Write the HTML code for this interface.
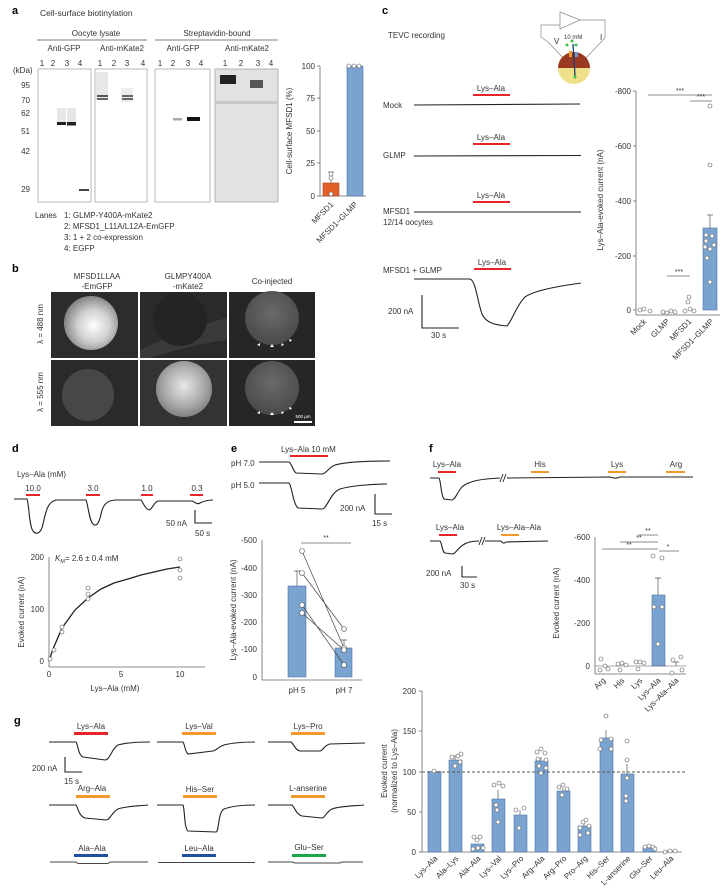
<!DOCTYPE html>
<html><head><meta charset="utf-8"><style>
html,body{margin:0;padding:0;background:#fff}
svg{display:block;font-family:"Liberation Sans",sans-serif}
</style></head><body>
<svg width="721" height="893" viewBox="0 0 721 893" xmlns="http://www.w3.org/2000/svg">
<defs>
<radialGradient id="g1" cx="0.55" cy="0.55" r="0.6"><stop offset="0" stop-color="#fff"/><stop offset="0.5" stop-color="#cfcfcf"/><stop offset="1" stop-color="#777"/></radialGradient>
<radialGradient id="g2" cx="0.5" cy="0.45" r="0.6"><stop offset="0" stop-color="#e8e8e8"/><stop offset="0.6" stop-color="#aaa"/><stop offset="1" stop-color="#777"/></radialGradient>
<radialGradient id="g3" cx="0.5" cy="0.4" r="0.6"><stop offset="0" stop-color="#6a6a6a"/><stop offset="1" stop-color="#4a4a4a"/></radialGradient>
</defs>
<g font-size="8" fill="#333">
<!-- ===== a ===== -->
<text x="12" y="14" font-size="11" font-weight="bold" fill="#000">a</text>
<text x="40" y="16" font-size="8.5">Cell-surface biotinylation</text>
<text x="96" y="36" text-anchor="middle">Oocyte lysate</text>
<text x="217" y="36" text-anchor="middle">Streptavidin-bound</text>
<line x1="37" y1="40" x2="147" y2="40" stroke="#555" stroke-width="0.7"/>
<line x1="155" y1="40" x2="278" y2="40" stroke="#555" stroke-width="0.7"/>
<text x="64" y="51" text-anchor="middle">Anti-GFP</text>
<text x="122" y="51" text-anchor="middle">Anti-mKate2</text>
<text x="183" y="51" text-anchor="middle">Anti-GFP</text>
<text x="247" y="51" text-anchor="middle">Anti-mKate2</text>
<g text-anchor="middle">
<text x="42" y="66">1</text><text x="53" y="66">2</text><text x="67" y="66">3</text><text x="80" y="66">4</text>
<text x="100" y="66">1</text><text x="114" y="66">2</text><text x="127" y="66">3</text><text x="143" y="66">4</text>
<text x="160" y="66">1</text><text x="173" y="66">2</text><text x="188" y="66">3</text><text x="201" y="66">4</text>
<text x="225" y="66">1</text><text x="241" y="66">2</text><text x="258" y="66">3</text><text x="271" y="66">4</text>
</g>
<text x="13" y="73">(kDa)</text>
<g text-anchor="end">
<text x="30" y="88">95</text><text x="30" y="103">70</text><text x="30" y="116">62</text><text x="30" y="134">51</text><text x="30" y="154">42</text><text x="30" y="192">29</text>
</g>
<rect x="38" y="69" width="53" height="133" fill="#fff" stroke="#999" stroke-width="0.7"/>
<rect x="95" y="69" width="52" height="133" fill="#fff" stroke="#999" stroke-width="0.7"/>
<rect x="155" y="69" width="55" height="133" fill="#fff" stroke="#999" stroke-width="0.7"/>
<rect x="215" y="69" width="63" height="133" fill="#e2e2e2" stroke="#999" stroke-width="0.7"/>
<rect x="57" y="108" width="9" height="14" fill="#e6e6e6"/><rect x="67" y="108" width="9" height="14" fill="#e6e6e6"/>
<rect x="57" y="122" width="9" height="3" fill="#222"/><rect x="67" y="122" width="9" height="3.5" fill="#222"/>
<rect x="79" y="189" width="10" height="2" fill="#444"/>
<rect x="96" y="72" width="12" height="28" fill="#e8e8e8"/><rect x="121" y="88" width="12" height="14" fill="#ececec"/>
<rect x="97" y="95" width="11" height="2" fill="#555"/><rect x="97" y="98" width="11" height="2" fill="#666"/>
<rect x="122" y="95" width="11" height="2" fill="#666"/><rect x="122" y="98" width="11" height="2" fill="#666"/>
<rect x="173" y="118" width="9" height="2.5" fill="#aaa"/><rect x="187" y="117" width="13" height="4" fill="#111"/>
<rect x="220" y="75" width="16" height="9" fill="#222"/><rect x="250" y="80" width="13" height="8" fill="#555"/>
<rect x="216" y="101" width="61" height="3" fill="#c8c8c8"/>
<text x="35" y="218">Lanes</text>
<text x="64" y="218">1: GLMP-Y400A-mKate2</text>
<text x="64" y="229">2: MFSD1_L11A/L12A-EmGFP</text>
<text x="64" y="240">3: 1 + 2 co-expression</text>
<text x="64" y="251">4: EGFP</text>
<!-- a bar chart -->
<line x1="320" y1="66" x2="320" y2="196" stroke="#666" stroke-width="0.8"/>
<line x1="320" y1="196" x2="366" y2="196" stroke="#666" stroke-width="0.8"/>
<g stroke="#666" stroke-width="0.8"><line x1="317" y1="66" x2="320" y2="66"/><line x1="317" y1="98" x2="320" y2="98"/><line x1="317" y1="131" x2="320" y2="131"/><line x1="317" y1="163" x2="320" y2="163"/><line x1="317" y1="196" x2="320" y2="196"/></g>
<g text-anchor="end"><text x="315" y="69">100</text><text x="315" y="101">75</text><text x="315" y="134">50</text><text x="315" y="166">25</text><text x="315" y="199">0</text></g>
<text transform="translate(292,131) rotate(-90)" text-anchor="middle">Cell-surface MFSD1 (%)</text>
<rect x="323" y="183" width="16" height="13" fill="#e0622a" stroke="#a8441a" stroke-width="0.6"/>
<line x1="331" y1="172" x2="331" y2="183" stroke="#555" stroke-width="0.7"/><line x1="328" y1="172" x2="334" y2="172" stroke="#555" stroke-width="0.7"/>
<rect x="347" y="66" width="16" height="130" fill="#7ba3d0" stroke="#4d76a8" stroke-width="0.6"/>
<g fill="#fff" stroke="#555" stroke-width="0.6"><circle cx="331" cy="174" r="2"/><circle cx="331" cy="178" r="2"/><circle cx="331" cy="194" r="2"/><circle cx="349" cy="66" r="2"/><circle cx="354" cy="66" r="2"/><circle cx="359" cy="66" r="2"/></g>
<text transform="translate(334,205) rotate(-45)" text-anchor="end">MFSD1</text>
<text transform="translate(358,205) rotate(-45)" text-anchor="end">MFSD1–GLMP</text>

<!-- ===== b ===== -->
<text x="12" y="272" font-size="11" font-weight="bold" fill="#000">b</text>
<text x="97" y="279" text-anchor="middle">MFSD1LLAA</text><text x="97" y="289" text-anchor="middle">-EmGFP</text>
<text x="188" y="279" text-anchor="middle">GLMPY400A</text><text x="188" y="289" text-anchor="middle">-mKate2</text>
<text x="272" y="284" text-anchor="middle">Co-injected</text>
<text transform="translate(43,324) rotate(-90)" text-anchor="middle">λ = 488 nm</text>
<text transform="translate(43,392) rotate(-90)" text-anchor="middle">λ = 555 nm</text>
<rect x="51" y="292" width="87" height="66" fill="#2c2c2c"/>
<rect x="140" y="292" width="87" height="66" fill="#2a2a2a"/>
<rect x="229" y="292" width="86" height="66" fill="#262626"/>
<rect x="51" y="360" width="87" height="66" fill="#2a2a2a"/>
<rect x="140" y="360" width="87" height="66" fill="#333"/>
<rect x="229" y="360" width="86" height="66" fill="#262626"/>
<path d="M140,350 Q180,330 227,318 L227,340 Q190,345 150,358 L140,358Z" fill="#3a3a3a"/>
<circle cx="91" cy="323" r="27" fill="url(#g1)"/>
<circle cx="180" cy="319" r="27" fill="#242424"/>
<circle cx="272" cy="318" r="27" fill="url(#g3)"/>
<circle cx="88" cy="395" r="26" fill="#474747"/>
<circle cx="184" cy="389" r="28" fill="url(#g2)"/>
<circle cx="272" cy="388" r="27" fill="url(#g3)"/>
<g fill="#fff"><path d="M257,345 l3,-2 v3z"/><path d="M270,347 l2,-3 l2,3z"/><path d="M281,346 l1,-3 l2,2z"/><path d="M290,342 l-1,-3 l3,1z"/>
<path d="M257,413 l3,-2 v3z"/><path d="M270,415 l2,-3 l2,3z"/><path d="M281,414 l1,-3 l2,2z"/><path d="M290,410 l-1,-3 l3,1z"/></g>
<rect x="294" y="421" width="18" height="2" fill="#fff"/>
<text x="303" y="418" font-size="4.5" fill="#fff" text-anchor="middle">500 µm</text>

<!-- ===== c ===== -->
<text x="382" y="14" font-size="11" font-weight="bold" fill="#000">c</text>
<text x="388" y="38">TEVC recording</text>
<g stroke="#888" stroke-width="0.7" fill="none">
<path d="M560,12 L580,20 L560,29Z" fill="#fff"/>
<path d="M560,25 L541,25 L541,37 L548,42 L567,62"/>
<path d="M580,20 L605,20 L605,38 L582,62"/>
</g>
<path d="M558,68 a16,16 0 0 1 32,0Z" fill="#9b3a22"/>
<path d="M558,68 a16,16 0 0 0 32,0Z" fill="#efe08a"/>
<line x1="573" y1="44" x2="575" y2="76" stroke="#1f3d6b" stroke-width="1.3"/>
<rect x="569" y="51" width="3" height="6" fill="#f39a2a"/><rect x="575" y="52" width="3" height="5" fill="#6d9ad0"/>
<g fill="#3bbf4a"><circle cx="567" cy="45" r="1.5"/><circle cx="572" cy="41" r="1.5"/><circle cx="576" cy="45" r="1.5"/><circle cx="575" cy="77" r="1.5"/></g>
<text x="554" y="44" font-size="8">V</text><text x="564" y="39" font-size="6">10 mM</text><text x="600" y="40" font-size="8">I</text>
<g text-anchor="middle">
<text x="491" y="91">Lys–Ala</text><text x="491" y="140">Lys–Ala</text><text x="491" y="198">Lys–Ala</text><text x="492" y="265">Lys–Ala</text>
</g>
<g fill="#e8262a"><rect x="473" y="94" width="37" height="2"/><rect x="473" y="143" width="37" height="2"/><rect x="473" y="201" width="37" height="2"/><rect x="474" y="268" width="37" height="2"/></g>
<text x="383" y="108">Mock</text><text x="383" y="158">GLMP</text><text x="383" y="214">MFSD1</text><text x="383" y="225">12/14 oocytes</text><text x="383" y="273">MFSD1 + GLMP</text>
<g stroke="#222" stroke-width="1.1" fill="none">
<path d="M414,105 L580,104"/><path d="M414,156 L581,155.5"/><path d="M414,212 L581,212"/>
<path d="M414,279 L470,279 C476,281 477,300 482,314 C486,323 495,325 507,326 C512,321 516,306 525,297 C535,290 560,286 581,283"/>
<path d="M422,295 L422,328 L459,328"/>
</g>
<text x="388" y="314">200 nA</text><text x="431" y="338">30 s</text>
<!-- c chart -->
<line x1="636" y1="91" x2="636" y2="315" stroke="#666" stroke-width="0.8"/>
<line x1="636" y1="315" x2="720" y2="315" stroke="#666" stroke-width="0.8"/>
<g stroke="#666" stroke-width="0.8"><line x1="633" y1="91" x2="636" y2="91"/><line x1="633" y1="146" x2="636" y2="146"/><line x1="633" y1="201" x2="636" y2="201"/><line x1="633" y1="256" x2="636" y2="256"/><line x1="633" y1="310" x2="636" y2="310"/></g>
<g text-anchor="end"><text x="631" y="94">-800</text><text x="631" y="149">-600</text><text x="631" y="204">-400</text><text x="631" y="259">-200</text><text x="631" y="313">0</text></g>
<text transform="translate(603,200) rotate(-90)" text-anchor="middle">Lys–Ala-evoked current (nA)</text>
<rect x="703" y="228" width="14" height="82" fill="#7ba3d0" stroke="#4d76a8" stroke-width="0.6"/>
<line x1="710" y1="215" x2="710" y2="228" stroke="#555" stroke-width="0.7"/><line x1="707" y1="215" x2="713" y2="215" stroke="#555" stroke-width="0.7"/>
<g fill="#fff" stroke="#555" stroke-width="0.6">
<circle cx="640" cy="310" r="2"/><circle cx="644" cy="309" r="2"/><circle cx="650" cy="311" r="2"/>
<circle cx="663" cy="312" r="2"/><circle cx="667" cy="313" r="2"/><circle cx="671" cy="311" r="2"/><circle cx="675" cy="312" r="2"/>
<circle cx="685" cy="311" r="2"/><circle cx="690" cy="309" r="2"/><circle cx="694" cy="311" r="2"/><circle cx="688" cy="302" r="2"/><circle cx="689" cy="297" r="2"/>
<circle cx="710" cy="106" r="2"/><circle cx="710" cy="165" r="2"/><circle cx="706" cy="235" r="2"/><circle cx="712" cy="236" r="2"/><circle cx="706" cy="241" r="2"/><circle cx="714" cy="245" r="2"/><circle cx="710" cy="249" r="2"/><circle cx="707" cy="258" r="2"/><circle cx="710" cy="282" r="2"/><circle cx="705" cy="247" r="2"/>
</g>
<g stroke="#666" stroke-width="0.7"><line x1="648" y1="95" x2="712" y2="95"/><line x1="690" y1="101" x2="712" y2="101"/><line x1="667" y1="276" x2="690" y2="276"/></g>
<g text-anchor="middle" font-size="7"><text x="680" y="93">***</text><text x="701" y="99">***</text><text x="679" y="274">***</text></g>
<g text-anchor="end"><text transform="translate(647,322) rotate(-45)">Mock</text><text transform="translate(670,322) rotate(-45)">GLMP</text><text transform="translate(692,322) rotate(-45)">MFSD1</text><text transform="translate(714,322) rotate(-45)">MFSD1–GLMP</text></g>

<!-- ===== d ===== -->
<text x="12" y="452" font-size="11" font-weight="bold" fill="#000">d</text>
<text x="17" y="477">Lys–Ala (mM)</text>
<g text-anchor="middle"><text x="33" y="491">10.0</text><text x="93" y="491">3.0</text><text x="147" y="491">1.0</text><text x="197" y="491">0.3</text></g>
<g fill="#e8262a"><rect x="26" y="494" width="14" height="2"/><rect x="86" y="494" width="14" height="2"/><rect x="141" y="494" width="12" height="2"/><rect x="190" y="494" width="13" height="2"/></g>
<g stroke="#222" stroke-width="1.1" fill="none">
<path d="M14,499 L27,499 C29,503 29,526 33,531 C36,535 41,534 43,524 C46,510 48,502 56,500 L86,500 C88,504 89,520 93,524 C96,527 99,524 101,514 C103,505 106,501 115,500 L141,500 C143,502 145,509 149,510 C152,510 153,503 158,501 L192,501 C195,502 197,505 200,503 C204,501 208,500 213,500"/>
<path d="M195,510 L195,523 L212,523"/>
</g>
<text x="166" y="526">50 nA</text><text x="195" y="536">50 s</text>
<line x1="49" y1="557" x2="49" y2="667" stroke="#666" stroke-width="0.8"/>
<line x1="49" y1="667" x2="205" y2="667" stroke="#666" stroke-width="0.8"/>
<g text-anchor="end"><text x="44" y="560">200</text><text x="44" y="612">100</text><text x="44" y="664">0</text></g>
<g text-anchor="middle"><text x="49" y="677">0</text><text x="121" y="677">5</text><text x="180" y="677">10</text><text x="115" y="691">Lys–Ala (mM)</text></g>
<text transform="translate(24,612) rotate(-90)" text-anchor="middle">Evoked current (nA)</text>
<text x="55" y="561"><tspan font-style="italic">K</tspan><tspan font-size="5.5" dy="2">M</tspan><tspan dy="-2">= 2.6 ± 0.4 mM</tspan></text>
<path d="M49,661 L53,649 L62,628 L75,610 L88,598 L101,589 L114,583 L128,579 L141,575 L154,572 L167,569 L180,567" stroke="#222" stroke-width="1.3" fill="none"/>
<g fill="#fff" stroke="#555" stroke-width="0.6">
<circle cx="180" cy="559" r="2"/><circle cx="180" cy="570" r="2"/><circle cx="180" cy="578" r="2"/>
<circle cx="88" cy="588" r="2"/><circle cx="88" cy="594" r="2"/><circle cx="88" cy="599" r="2"/>
<circle cx="62" cy="627" r="2"/><circle cx="62" cy="632" r="2"/><circle cx="54" cy="650" r="2"/><circle cx="50" cy="659" r="2"/></g>

<!-- ===== e ===== -->
<text x="231" y="452" font-size="11" font-weight="bold" fill="#000">e</text>
<text x="281" y="452">Lys–Ala 10 mM</text>
<rect x="290" y="455" width="38" height="2" fill="#e8262a"/>
<text x="231" y="466">pH 7.0</text><text x="231" y="488">pH 5.0</text>
<g stroke="#222" stroke-width="1.1" fill="none">
<path d="M259,462 L289,462 C292,464 293,471 296,473 L322,474 C326,474 328,468 335,465 C345,462 370,461 390,461"/>
<path d="M259,483 L289,483 C292,486 293,504 298,508 L322,509 C327,509 330,493 340,489 C350,486 370,484 387,484"/>
<path d="M375,494 L375,514 L392,514"/>
</g>
<text x="340" y="511">200 nA</text><text x="372" y="526">15 s</text>
<line x1="262" y1="540" x2="262" y2="680" stroke="#666" stroke-width="0.8"/>
<line x1="262" y1="680" x2="362" y2="680" stroke="#666" stroke-width="0.8"/>
<g text-anchor="end"><text x="257" y="543">-500</text><text x="257" y="571">-400</text><text x="257" y="598">-300</text><text x="257" y="625">-200</text><text x="257" y="652">-100</text><text x="257" y="680">0</text></g>
<text transform="translate(236,610) rotate(-90)" text-anchor="middle">Lys–Ala-evoked current (nA)</text>
<rect x="288" y="586" width="18" height="91" fill="#7ba3d0" stroke="#4d76a8" stroke-width="0.6"/>
<rect x="335" y="648" width="17" height="29" fill="#7ba3d0" stroke="#4d76a8" stroke-width="0.6"/>
<g stroke="#555" stroke-width="0.7"><path d="M297,571 V586 M294,571 H300 M344,640 V648 M341,640 H347"/>
<path d="M302,551 L344,648 M302,573 L344,629 M302,605 L344,665 M302,613 L344,650" stroke="#444"/>
<line x1="301" y1="543" x2="351" y2="543" stroke="#666"/></g>
<g fill="#fff" stroke="#555" stroke-width="0.6"><circle cx="302" cy="551" r="2.5"/><circle cx="302" cy="573" r="2.5"/><circle cx="302" cy="605" r="2.5"/><circle cx="302" cy="613" r="2.5"/><circle cx="344" cy="629" r="2.5"/><circle cx="344" cy="648" r="2.5"/><circle cx="344" cy="650" r="2.5"/><circle cx="344" cy="665" r="2.5"/></g>
<text x="326" y="540" text-anchor="middle" font-size="7">**</text>
<g text-anchor="middle"><text x="297" y="693">pH 5</text><text x="344" y="693">pH 7</text></g>

<!-- ===== f ===== -->
<text x="429" y="452" font-size="11" font-weight="bold" fill="#000">f</text>
<g text-anchor="middle"><text x="447" y="467">Lys–Ala</text><text x="540" y="467">His</text><text x="617" y="467">Lys</text><text x="676" y="467">Arg</text>
<text x="450" y="530">Lys–Ala</text><text x="519" y="530">Lys–Ala–Ala</text></g>
<rect x="438" y="471" width="18" height="2" fill="#e8262a"/><rect x="531" y="471" width="18" height="2" fill="#f39a2a"/><rect x="608" y="471" width="18" height="2" fill="#f39a2a"/><rect x="666" y="471" width="19" height="2" fill="#f39a2a"/>
<rect x="439" y="534" width="18" height="2" fill="#e8262a"/><rect x="501" y="534" width="18" height="2" fill="#f39a2a"/>
<g stroke="#222" stroke-width="1.1" fill="none">
<path d="M430,478 L439,478 C441,481 441,496 444,499 L452,500 C456,499 458,490 463,486 C470,481 480,479 500,478"/>
<path d="M507,478 L610,477 C613,478 616,479 620,477 L693,477"/>
<path d="M430,541 L440,541 C442,543 442,552 445,553 L453,554 C456,553 458,548 463,545 C467,542 472,541 479,541"/>
<path d="M485,541 L501,541 C502,543 504,544 506,542 L548,541"/>
<path d="M462,566 L462,577 L477,577"/>
</g>
<g stroke="#222" stroke-width="0.9"><path d="M500,482 L503,474 M503,482 L506,474"/><path d="M479,545 L482,537 M482,545 L485,537"/></g>
<text x="426" y="576">200 nA</text><text x="460" y="588">30 s</text>
<line x1="595" y1="537" x2="595" y2="674" stroke="#666" stroke-width="0.8"/>
<line x1="595" y1="674" x2="686" y2="674" stroke="#666" stroke-width="0.8"/>
<g text-anchor="end"><text x="590" y="540">-600</text><text x="590" y="583">-400</text><text x="590" y="626">-200</text><text x="590" y="669">0</text></g>
<text transform="translate(559,603) rotate(-90)" text-anchor="middle">Evoked current (nA)</text>
<rect x="652" y="595" width="13" height="71" fill="#7ba3d0" stroke="#4d76a8" stroke-width="0.6"/>
<g stroke="#555" stroke-width="0.7"><path d="M658,578 V595 M655,578 H661 M676,662 V666 M673,662 H679"/></g>
<line x1="595" y1="666" x2="686" y2="666" stroke="#555" stroke-width="0.6"/>
<g fill="#fff" stroke="#555" stroke-width="0.6">
<circle cx="601" cy="659" r="2"/><circle cx="600" cy="670" r="2"/><circle cx="605" cy="666" r="2"/><circle cx="608" cy="669" r="2"/>
<circle cx="618" cy="664" r="2"/><circle cx="622" cy="663" r="2"/><circle cx="626" cy="665" r="2"/><circle cx="620" cy="670" r="2"/>
<circle cx="636" cy="662" r="2"/><circle cx="640" cy="662" r="2"/><circle cx="644" cy="663" r="2"/><circle cx="638" cy="669" r="2"/>
<circle cx="653" cy="556" r="2"/><circle cx="662" cy="558" r="2"/><circle cx="654" cy="607" r="2"/><circle cx="662" cy="607" r="2"/><circle cx="658" cy="644" r="2"/>
<circle cx="673" cy="660" r="2"/><circle cx="681" cy="657" r="2"/><circle cx="672" cy="673" r="2"/><circle cx="682" cy="670" r="2"/></g>
<g stroke="#666" stroke-width="0.7"><line x1="638" y1="535" x2="658" y2="535"/><line x1="620" y1="542" x2="658" y2="542"/><line x1="602" y1="549" x2="658" y2="549"/><line x1="659" y1="551" x2="679" y2="551"/></g>
<g text-anchor="middle" font-size="7"><text x="648" y="533">**</text><text x="639" y="540">**</text><text x="629" y="547">**</text><text x="668" y="549">*</text></g>
<g text-anchor="end"><text transform="translate(606,681) rotate(-45)">Arg</text><text transform="translate(625,681) rotate(-45)">His</text><text transform="translate(643,681) rotate(-45)">Lys</text><text transform="translate(661,681) rotate(-45)">Lys–Ala</text><text transform="translate(679,681) rotate(-45)">Lys–Ala–Ala</text></g>

<!-- ===== g ===== -->
<text x="14" y="724" font-size="11" font-weight="bold" fill="#000">g</text>
<g text-anchor="middle">
<text x="91" y="729">Lys–Ala</text><text x="199" y="729">Lys–Val</text><text x="308" y="729">Lys–Pro</text>
<text x="92" y="791">Arg–Ala</text><text x="200" y="792">His–Ser</text><text x="308" y="791">L-anserine</text>
<text x="92" y="851">Ala–Ala</text><text x="199" y="851">Leu–Ala</text><text x="309" y="850">Glu–Ser</text>
</g>
<rect x="74" y="732" width="34" height="3" fill="#e8262a"/><rect x="182" y="732" width="34" height="3" fill="#f39a2a"/><rect x="291" y="732" width="34" height="3" fill="#f39a2a"/>
<rect x="76" y="795" width="34" height="3" fill="#f39a2a"/><rect x="183" y="795" width="34" height="3" fill="#f39a2a"/><rect x="291" y="795" width="34" height="3" fill="#f39a2a"/>
<rect x="74" y="854" width="34" height="3" fill="#1f4ea3"/><rect x="182" y="854" width="34" height="3" fill="#1f4ea3"/><rect x="292" y="854" width="34" height="3" fill="#1aa64a"/>
<g stroke="#222" stroke-width="1.1" fill="none">
<path d="M49,742 L76,742 C78,744 78,755 83,757 L105,760 C110,760 112,748 118,745 C125,743 135,742 150,742"/>
<path d="M157,742 L183,742 C185,745 185,752 188,754 L213,751 C217,750 218,747 224,745 C232,743 245,742 255,742"/>
<path d="M268,742 L291,742 C294,744 295,750 300,751 L320,751 C323,751 324,745 330,744 L365,743"/>
<path d="M49,805 L76,805 C78,808 79,816 85,818 L106,820 C110,820 112,812 118,809 C126,806 140,806 148,805"/>
<path d="M157,805 L183,805 C185,810 184,828 188,831 L216,832 C219,832 218,812 224,809 C232,806 245,805 255,805"/>
<path d="M268,805 L292,805 C295,808 296,814 302,816 L322,818 C325,818 326,812 332,809 C340,806 355,806 364,805"/>
<path d="M65,757 L65,772 L82,772"/>
</g>
<g stroke="#444" stroke-width="1" fill="none">
<path d="M50,862 L76,862 L78,863.5 L108,863.5 L110,862 L148,862"/><path d="M158,862.5 L255,862.5"/><path d="M268,862 L292,862 L295,863 L340,863 L342,862 L363,862"/>
</g>
<text x="32" y="771">200 nA</text><text x="64" y="784">15 s</text>
<!-- g chart -->
<line x1="422" y1="691" x2="422" y2="852" stroke="#666" stroke-width="0.8"/>
<line x1="422" y1="852" x2="682" y2="852" stroke="#666" stroke-width="0.8"/>
<g stroke="#666" stroke-width="0.8"><line x1="419" y1="691" x2="422" y2="691"/><line x1="419" y1="731" x2="422" y2="731"/><line x1="419" y1="772" x2="422" y2="772"/><line x1="419" y1="812" x2="422" y2="812"/><line x1="419" y1="852" x2="422" y2="852"/></g>
<g text-anchor="end"><text x="416" y="694">200</text><text x="416" y="734">150</text><text x="416" y="775">100</text><text x="416" y="815">50</text><text x="416" y="855">0</text></g>
<text transform="translate(387,771) rotate(-90)" text-anchor="middle">Evoked current</text>
<text transform="translate(397,771) rotate(-90)" text-anchor="middle">(normalized to Lys–Ala)</text>
<g fill="#7ba3d0" stroke="#4d76a8" stroke-width="0.6">
<rect x="428" y="771.5" width="13" height="80.5"/><rect x="449" y="760" width="13" height="92"/><rect x="471" y="844" width="13" height="8"/><rect x="492" y="799" width="13" height="53"/><rect x="514" y="815" width="13" height="37"/><rect x="535" y="761" width="13" height="91"/><rect x="557" y="791" width="13" height="61"/><rect x="578" y="826" width="13" height="26"/><rect x="600" y="738" width="13" height="114"/><rect x="621" y="774" width="13" height="78"/><rect x="643" y="847" width="13" height="5"/><rect x="664" y="851" width="13" height="1"/>
</g>
<line x1="422" y1="772" x2="685" y2="772" stroke="#555" stroke-width="1" stroke-dasharray="3,2"/>
<g stroke="#555" stroke-width="0.7"><path d="M455,755 V760 M498,790 V799 M520,810 V815 M541,757 V761 M563,788 V791 M584,821 V826 M606,730 V738 M627,764 V774"/></g>
<g fill="#fff" stroke="#555" stroke-width="0.6">
<circle cx="434" cy="771" r="2"/>
<circle cx="452" cy="757" r="2"/><circle cx="458" cy="756" r="2"/><circle cx="461" cy="754" r="2"/><circle cx="455" cy="766" r="2"/><circle cx="460" cy="762" r="2"/>
<circle cx="474" cy="837" r="2"/><circle cx="480" cy="837" r="2"/><circle cx="477" cy="840" r="2"/><circle cx="473" cy="849" r="2"/><circle cx="478" cy="848" r="2"/><circle cx="483" cy="848" r="2"/>
<circle cx="494" cy="785" r="2"/><circle cx="499" cy="783" r="2"/><circle cx="503" cy="786" r="2"/><circle cx="496" cy="805" r="2"/><circle cx="497" cy="810" r="2"/><circle cx="498" cy="822" r="2"/>
<circle cx="516" cy="810" r="2"/><circle cx="524" cy="808" r="2"/><circle cx="519" cy="828" r="2"/>
<circle cx="537" cy="752" r="2"/><circle cx="541" cy="749" r="2"/><circle cx="545" cy="753" r="2"/><circle cx="538" cy="759" r="2"/><circle cx="546" cy="760" r="2"/><circle cx="539" cy="766" r="2"/><circle cx="546" cy="768" r="2"/><circle cx="541" cy="773" r="2"/>
<circle cx="559" cy="787" r="2"/><circle cx="563" cy="785" r="2"/><circle cx="567" cy="789" r="2"/><circle cx="562" cy="795" r="2"/>
<circle cx="580" cy="828" r="2"/><circle cx="583" cy="822" r="2"/><circle cx="586" cy="820" r="2"/><circle cx="589" cy="826" r="2"/><circle cx="580" cy="835" r="2"/><circle cx="588" cy="833" r="2"/>
<circle cx="606" cy="716" r="2"/><circle cx="601" cy="740" r="2"/><circle cx="611" cy="739" r="2"/><circle cx="600" cy="749" r="2"/><circle cx="611" cy="749" r="2"/>
<circle cx="627" cy="741" r="2"/><circle cx="627" cy="760" r="2"/><circle cx="627" cy="778" r="2"/><circle cx="626" cy="796" r="2"/><circle cx="626" cy="801" r="2"/>
<circle cx="645" cy="847" r="2"/><circle cx="649" cy="846" r="2"/><circle cx="653" cy="847" r="2"/><circle cx="655" cy="849" r="2"/>
<circle cx="665" cy="852" r="2"/><circle cx="670" cy="851" r="2"/><circle cx="675" cy="851" r="2"/></g>
<g text-anchor="end">
<text transform="translate(438,859) rotate(-45)">Lys–Ala</text><text transform="translate(459,859) rotate(-45)">Ala–Lys</text><text transform="translate(481,859) rotate(-45)">Ala–Ala</text><text transform="translate(502,859) rotate(-45)">Lys–Val</text><text transform="translate(524,859) rotate(-45)">Lys–Pro</text><text transform="translate(545,859) rotate(-45)">Arg–Ala</text><text transform="translate(567,859) rotate(-45)">Arg–Pro</text><text transform="translate(588,859) rotate(-45)">Pro–Arg</text><text transform="translate(610,859) rotate(-45)">His–Ser</text><text transform="translate(631,859) rotate(-45)">L-anserine</text><text transform="translate(653,859) rotate(-45)">Glu–Ser</text><text transform="translate(674,859) rotate(-45)">Leu–Ala</text>
</g>
</g>
</svg>
</body></html>
